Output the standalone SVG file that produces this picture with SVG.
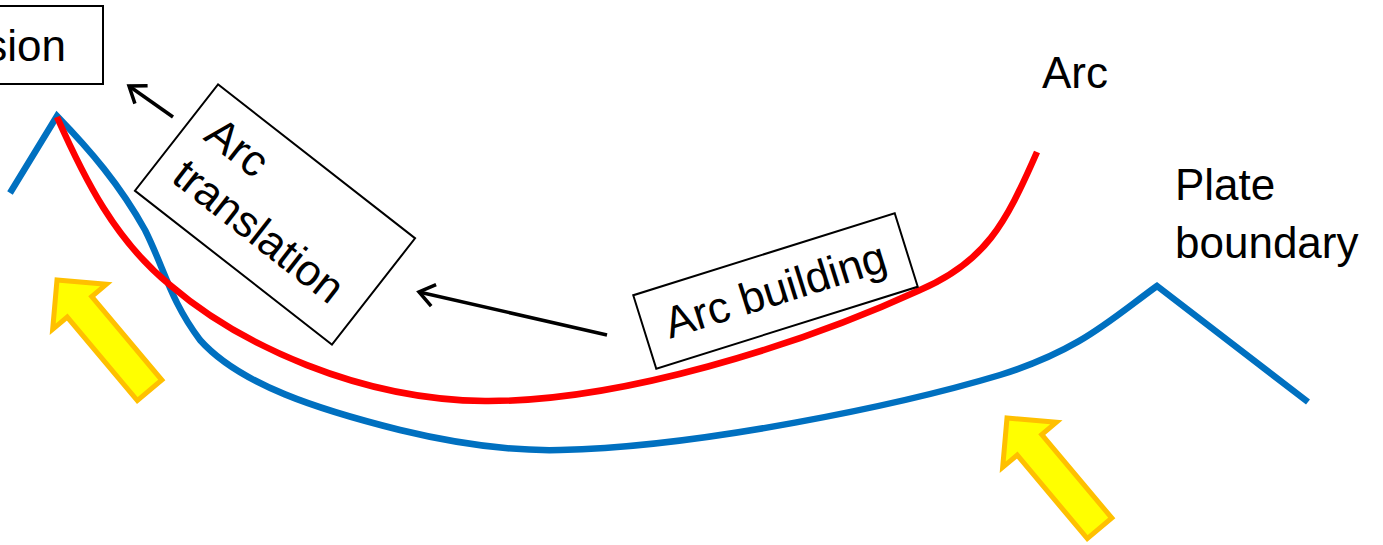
<svg xmlns="http://www.w3.org/2000/svg" width="1383" height="545" viewBox="0 0 1383 545">
<style>
.lbl{font-family:"Liberation Sans",Arial,sans-serif;font-size:44px;fill:#000}
.box{fill:#fff;stroke:#000;stroke-width:2}
.arc{fill:none;stroke:#FF0000;stroke-width:6.5;stroke-linejoin:round}
.plate{fill:none;stroke:#0070C0;stroke-width:6.5;stroke-linejoin:miter}
.conn{fill:none;stroke:#000;stroke-width:3.5}
.push{fill:#FFFF00;stroke:#FFC000;stroke-width:5;stroke-linejoin:miter}
</style>
<defs>
<marker id="open" markerUnits="userSpaceOnUse" markerWidth="30" markerHeight="30" viewBox="-20 -15 25 30" refX="0" refY="0" orient="auto">
<path d="M-15,-11 L0,0 L-15,11" fill="none" stroke="#000" stroke-width="3.5"/>
</marker>
<polygon id="blockArrow" points="0,0 35,35 16,35 16,144 -16,144 -16,35 -35,35"/>
</defs>
<rect width="1383" height="545" fill="#fff"/>
<g id="plate-boundary-line">
<path class="plate" d="M10,193 L57,116 C90,150 120,185 145,230 C165,270 170,300 200,340 C240,385 320,410 400,430 C470,447 520,451 560,450 C700,447 900,405 1000,375 C1080,350 1110,320 1157,286 L1308,402"/>
</g>
<g id="arc-line">
<path class="arc" d="M57,117 C85,180 115,240 170,285 C240,345 360,400 485,401 C620,402 800,345 920,290 C985,262 1005,225 1037,152"/>
</g>
<g id="push-arrow-left">
<use href="#blockArrow" class="push" transform="translate(57,280) rotate(-40)"/>
</g>
<g id="push-arrow-right">
<use href="#blockArrow" class="push" transform="translate(1007,418) rotate(-40)"/>
</g>
<g id="node-top-left">
<rect class="box" x="-20" y="6" width="123" height="78"/>
<text class="lbl" x="66" y="61" text-anchor="end">sion</text>
</g>
<g id="node-arc-translation" transform="translate(275,214.5) rotate(38)">
<rect class="box" x="-125" y="-67.5" width="250" height="135"/>
<text class="lbl" x="-104" y="-15">Arc</text>
<text class="lbl" x="-104" y="38">translation</text>
</g>
<g id="node-arc-building" transform="translate(775.5,291) rotate(-17.4)">
<rect class="box" x="-137" y="-38.5" width="274" height="77"/>
<text class="lbl" x="0" y="14" text-anchor="middle">Arc building</text>
</g>
<g id="label-arc">
<text class="lbl" x="1042" y="88">Arc</text>
</g>
<g id="label-plate-boundary">
<text class="lbl" x="1175" y="200">Plate</text>
<text class="lbl" x="1175" y="258">boundary</text>
</g>
<g id="connectors">
<line class="conn" x1="173" y1="117" x2="129" y2="86" marker-end="url(#open)"/>
<line class="conn" x1="607" y1="335" x2="419" y2="292" marker-end="url(#open)"/>
</g>
</svg>
